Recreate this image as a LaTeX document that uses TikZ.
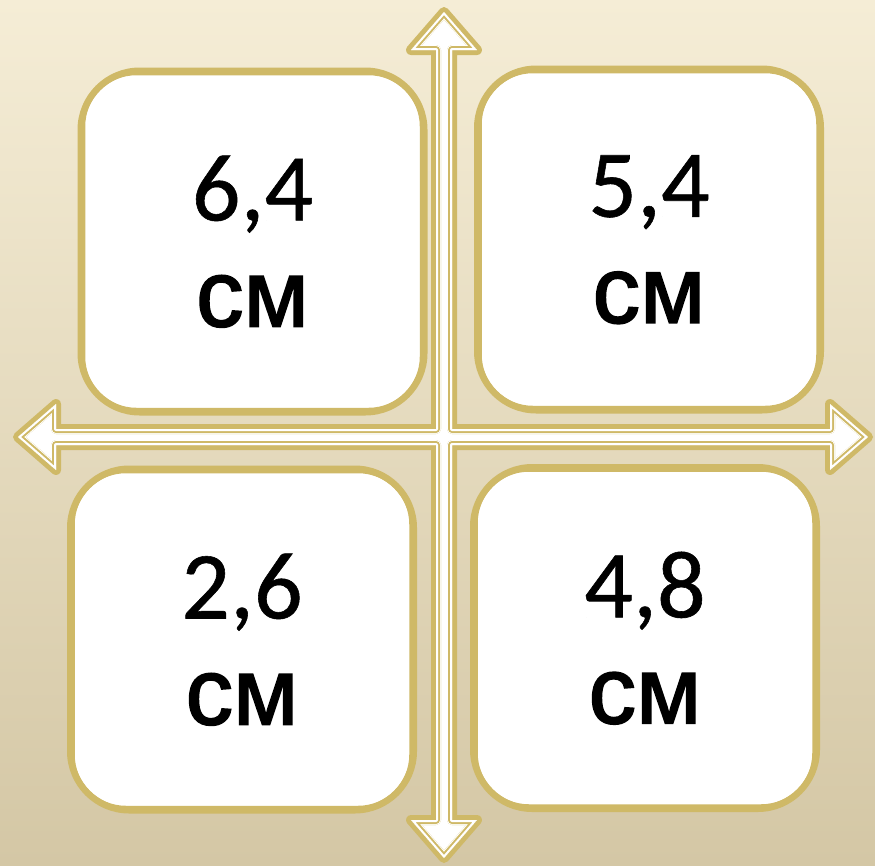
\documentclass[tikz,border=0pt]{standalone}
\usepackage{fontspec}
\newfontface\labelfont[FakeBold=0.6]{Carlito}
\newfontface\unitfont[FakeBold=1.8]{Liberation Sans}
\usepackage{tikz}

\definecolor{rimgold}{HTML}{CFB967}
\definecolor{bgtop}{HTML}{F5EDD6}
\definecolor{bgbottom}{HTML}{D4C7A5}

% outline of the four-way arrow (inner edge of the thick rim)
\newcommand{\crossshape}[1]{%
  \path[#1] (444,12) -- (477,50) -- (452,50) -- (452,429) -- (830,429) -- (830,404)
    -- (868,437) -- (830,470) -- (830,445) -- (452,445) -- (452,820) -- (477,820)
    -- (444,858) -- (411,820) -- (436,820) -- (436,445) -- (56,445) -- (56,470)
    -- (18,437) -- (56,404) -- (56,429) -- (436,429) -- (436,50) -- (411,50) -- cycle;}

% value and unit, two lines
\newcommand{\sizelabel}[1]{{\labelfont\fontsize{96}{106}\selectfont #1}\\{\unitfont\fontsize{95}{106}\selectfont см}}

\tikzset{
  box/.style={draw=rimgold, line width=6.5pt, fill=white, rounded corners=59pt,
    minimum width=343.5pt, minimum height=341.5pt, inner sep=0pt, align=center,
    font=\fontsize{96}{106}\selectfont},
  boxrim/.style={draw=rimgold, line width=2pt, rounded corners=52pt}
}

\begin{document}
\begin{tikzpicture}[x=1pt,y=-1pt]
        \useasboundingbox (0,0) rectangle (875,865);
        % Fundo
        \shade[top color=bgtop, bottom color=bgbottom] (0,0) rectangle (875,865);

        % Cruz de setas
        \crossshape{fill=white, draw=rimgold, line width=10pt, line join=round}
        \begin{scope}
            \crossshape{clip}
            \crossshape{draw=white, line width=10pt, line join=round}
            \crossshape{draw=rimgold, line width=8pt, line join=round}
            \crossshape{draw=white, line width=4pt, line join=round}
        \end{scope}

        % Caixas
        \node[box] (tl) at (252.5,241.5) {\sizelabel{6,4}};
        \node[box] (tr) at (649,239.5) {\sizelabel{5,4}};
        \node[box] (bl) at (242,639.5) {\sizelabel{2,6}};
        \node[box] (br) at (645,638) {\sizelabel{4,8}};

        % Bordas internas
        \foreach \b in {tl,tr,bl,br}
            \draw[boxrim] ([shift={(6.75pt,6.75pt)}]\b.south west) rectangle ([shift={(-6.75pt,-6.75pt)}]\b.north east);
    \end{tikzpicture}
\end{document}
